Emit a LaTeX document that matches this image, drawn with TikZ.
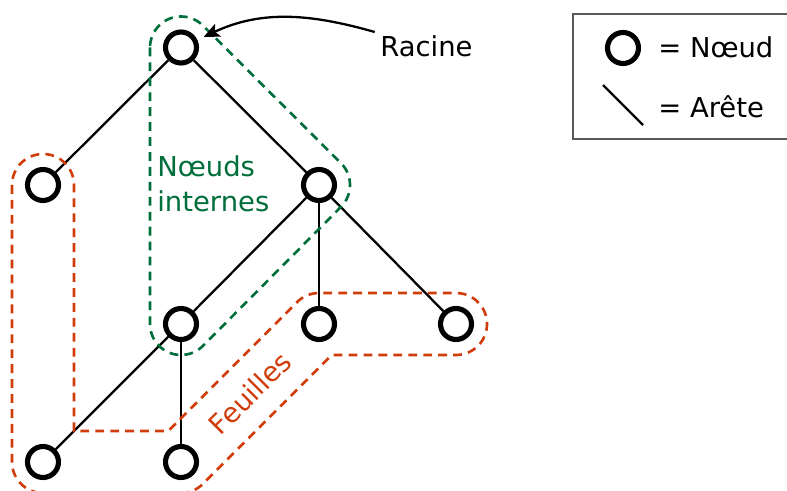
\documentclass[tikz,border=0pt]{standalone}
\usepackage{fontspec}
\setmainfont{DejaVu Sans}
\usetikzlibrary{arrows.meta}
\definecolor{rougefeuille}{RGB}{208,60,10}
\definecolor{vertinterne}{RGB}{0,110,58}
\begin{document}
\begin{tikzpicture}[
    every node/.style={font=\fontsize{15.6}{20}\selectfont},
    noeud/.style={circle, draw, line width=2.9pt, minimum size=0.62cm, inner sep=0pt},
    arete/.style={line width=1.3pt},
    texte/.style={inner sep=0pt, anchor=west},
    interne/.style={draw=vertinterne, line width=1.5pt, dash pattern=on 5pt off 3.5pt},
    feuille/.style={draw=rougefeuille, line width=1.5pt, dash pattern=on 5pt off 3.5pt},
    legende/.style={draw=black!65, line width=0.8pt},
    fleche/.style={line width=1.3pt, -{Stealth[length=9pt, width=8pt, inset=2pt]}, shorten >=4pt}
]
    % Frame
    \useasboundingbox (0,0) rectangle (15.74,9.82);
    \clip (0,0) rectangle (15.74,9.82);

    % Tree nodes
    \foreach \n/\x/\y in {r/3.62/8.87, a/0.86/6.12, b/6.38/6.12,
                          c/3.62/3.34, d/6.38/3.34, e/9.12/3.34,
                          f/0.86/0.58, g/3.62/0.58} {
        \node[noeud] (\n) at (\x,\y) {};
    }

    % Edges
    \foreach \p/\q in {r/a, r/b, b/c, b/d, b/e, c/f, c/g} {
        \draw[arete] (\p) -- (\q);
    }

    % Internal nodes (green)
    \draw[interne] ([xshift=-0.62cm]r.center) -- ([xshift=-0.62cm]c.center)
        arc[start angle=180, end angle=315, radius=0.62]
        -- ([shift={(-45:0.62)}]b.center)
        arc[start angle=-45, end angle=45, radius=0.62]
        -- ([shift={(45:0.62)}]r.center)
        arc[start angle=45, end angle=180, radius=0.62] -- cycle;
    \node[texte, text=vertinterne, align=left] (internes) at (3.14,6.14) {Nœuds\\internes};

    % Leaves (red)
    \draw[feuille] ([xshift=-0.62cm]a.center) -- ([xshift=-0.62cm]f.center)
        arc[start angle=180, end angle=270, radius=0.62]
        -- ([yshift=-0.62cm]g.center)
        arc[start angle=270, end angle=315, radius=0.62]
        -- ([shift={(0.257,-0.62)}]d.center)
        -- ([yshift=-0.62cm]e.center)
        arc[start angle=-90, end angle=90, radius=0.62]
        -- ([yshift=0.62cm]d.center)
        arc[start angle=90, end angle=135, radius=0.62]
        -- ([shift={(-0.257,0.62)}]g.center)
        -- ([shift={(0.62,0.62)}]f.center)
        -- ([xshift=0.62cm]a.center)
        arc[start angle=0, end angle=180, radius=0.62] -- cycle;
    \node[inner sep=0pt, text=rougefeuille, rotate=45] (feuilles) at (5.0,1.96) {Feuilles};

    % Root label
    \node[texte] (racine) at (7.6,8.89) {Racine};
    \draw[fleche] ([shift={(-3pt,2pt)}]racine.north west) to[out=164, in=25] (r);

    % Legend
    \draw[legende] (11.46,7.04) rectangle (16,9.54);
    \node[noeud] (lnoeud) at (12.46,8.86) {};
    \node[texte] (tnoeud) at (13.16,8.87) {= Nœud};
    \coordinate (l1) at (12.06,8.12);
    \coordinate (l2) at (12.86,7.32);
    \draw[arete] (l1) -- (l2);
    \node[texte] (tarete) at (13.16,7.68) {= Arête};
\end{tikzpicture}
\end{document}
